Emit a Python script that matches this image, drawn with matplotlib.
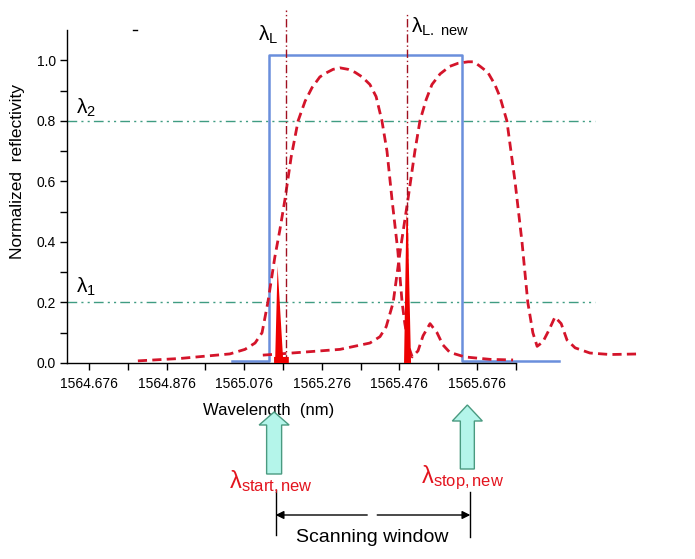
import matplotlib
matplotlib.use("Agg")
import matplotlib.pyplot as plt
from matplotlib.patches import Polygon
from matplotlib.lines import Line2D
from matplotlib.transforms import blended_transform_factory

plt.rcParams['font.family'] = ['Liberation Sans', 'DejaVu Sans']
plt.rcParams['mathtext.fontset'] = 'custom'
plt.rcParams['mathtext.rm'] = 'Liberation Sans'
plt.rcParams['mathtext.it'] = 'Liberation Sans'

# reflection spectrum, first position (nm, normalized)
wl_1 = [1564.802, 1564.911, 1565.039, 1565.078, 1565.104, 1565.122, 1565.137,
        1565.155, 1565.168, 1565.181, 1565.197, 1565.215, 1565.233, 1565.251,
        1565.271, 1565.287, 1565.305, 1565.323, 1565.344, 1565.362, 1565.380,
        1565.400, 1565.416, 1565.431, 1565.444, 1565.457, 1565.472, 1565.483,
        1565.490, 1565.501, 1565.509, 1565.524, 1565.537, 1565.555, 1565.573,
        1565.588, 1565.606, 1565.645, 1565.710, 1565.769]
r_1 = [0.007, 0.015, 0.03, 0.045, 0.066, 0.10, 0.20,
       0.35, 0.44, 0.54, 0.68, 0.80, 0.865, 0.91,
       0.945, 0.958, 0.97, 0.975, 0.97, 0.96, 0.945,
       0.92, 0.88, 0.80, 0.70, 0.54, 0.37, 0.20,
       0.13, 0.05, 0.02, 0.04, 0.09, 0.13, 0.10,
       0.06, 0.035, 0.02, 0.012, 0.01]

# reflection spectrum, shifted position
wl_2 = [1565.124, 1565.168, 1565.220, 1565.323, 1565.400, 1565.426, 1565.442,
        1565.460, 1565.478, 1565.498, 1565.516, 1565.529, 1565.545, 1565.560,
        1565.581, 1565.606, 1565.627, 1565.653, 1565.668, 1565.684, 1565.704,
        1565.722, 1565.735, 1565.753, 1565.774, 1565.792, 1565.807, 1565.820,
        1565.831, 1565.846, 1565.862, 1565.877, 1565.893, 1565.908, 1565.929,
        1565.967, 1566.019, 1566.096]
r_2 = [0.026, 0.03, 0.035, 0.045, 0.066, 0.087, 0.12,
       0.20, 0.37, 0.54, 0.70, 0.80, 0.87, 0.92,
       0.955, 0.98, 0.99, 0.995, 0.995, 0.98, 0.96,
       0.92, 0.88, 0.80, 0.60, 0.40, 0.20, 0.10,
       0.055, 0.07, 0.11, 0.152, 0.13, 0.076, 0.05,
       0.033, 0.028, 0.03]

# filter window
win_x = [1565.045, 1565.140, 1565.140, 1565.637, 1565.637, 1565.887]
win_y = [0.008, 0.008, 1.016, 1.016, 0.008, 0.008]

# laser lines
laser1_x = [1565.153, 1565.153, 1565.156, 1565.162, 1565.176, 1565.191, 1565.191]
laser1_y = [0.0, 0.02, 0.02, 0.32, 0.02, 0.02, 0.0]
laser2_x = [1565.488, 1565.494, 1565.498, 1565.506]
laser2_y = [0.0, 0.49, 0.46, 0.0]

lam_L = 1565.183
lam_L_new = 1565.495
lam_1 = 0.2
lam_2 = 0.8
lam_start = 1565.157
lam_stop = 1565.655

major_ticks = [1564.676, 1564.876, 1565.076, 1565.276, 1565.476, 1565.676]
minor_ticks = [1564.776, 1564.976, 1565.176, 1565.376, 1565.576, 1565.776]

W, H = 695, 559
fig = plt.figure(figsize=(W / 100, H / 100), dpi=100)
ax = fig.add_axes([67 / W, 196 / H, 593 / W, 333 / H])
x0, x1 = 1564.6193, 1566.1477
ax.set_xlim(x0, x1)
ax.set_ylim(0, 1.1)

for s in ['top', 'right']:
    ax.spines[s].set_visible(False)
ax.spines['bottom'].set_bounds(x0, 1565.776)
for s in ['bottom', 'left']:
    ax.spines[s].set_linewidth(1.0)

ax.set_xticks(major_ticks)
ax.set_xticklabels(['%.3f' % t for t in major_ticks])
ax.set_xticks(minor_ticks, minor=True)
ax.set_yticks([0, 0.2, 0.4, 0.6, 0.8, 1.0])
ax.set_yticklabels(['0.0', '0.2', '0.4', '0.6', '0.8', '1.0'])
ax.set_yticks([0.1, 0.3, 0.5, 0.7, 0.9], minor=True)
ax.tick_params(which='both', direction='out', length=5, width=1, labelsize=10)
ax.tick_params(axis='x', pad=5)
ax.tick_params(axis='y', pad=3)

red = '#d4142a'
teal = '#3f9c82'
ax.plot([x0, 1565.98], [lam_2, lam_2], color=teal, lw=1, dashes=[7, 3, 1.5, 3, 1.5, 3])
ax.plot([x0, 1565.98], [lam_1, lam_1], color=teal, lw=1, dashes=[7, 3, 1.5, 3, 1.5, 3])

ax.plot(win_x, win_y, color='#6a8fdc', lw=1.8, clip_on=False)

ax.plot(wl_1, r_1, color=red, lw=2, dashes=(3.3, 1.9), clip_on=False)
ax.plot(wl_2, r_2, color=red, lw=2, dashes=(3.3, 1.9), clip_on=False)

ax.fill(laser1_x, laser1_y, color='#ee0000', lw=0, zorder=4)
ax.fill(laser2_x, laser2_y, color='#ee0000', lw=0, zorder=4)

ax.plot([lam_L, lam_L], [0, 1.165], color='#a01020', lw=1, dashes=[6, 2, 1, 2], clip_on=False)
ax.plot([lam_L_new, lam_L_new], [0, 1.158], color='#a01020', lw=1, dashes=[6, 2, 1, 2], clip_on=False)

ax.text(1565.112, 1.065, r'$\mathregular{\lambda_L}$', fontsize=15, clip_on=False)
ax.text(1565.506, 1.092, r'$\mathregular{\lambda_{L.\ new}}$', fontsize=15, clip_on=False)
ax.text(1564.642, 0.825, r'$\mathregular{\lambda_2}$', fontsize=15)
ax.text(1564.642, 0.231, r'$\mathregular{\lambda_1}$', fontsize=15)

ax.text(0.3406, -0.120, 'Wavelength  (nm)', transform=ax.transAxes, fontsize=12,
        ha='center', va='top', clip_on=False)
ax.text(-0.0843, 0.5736, 'Normalized  reflectivity', transform=ax.transAxes, fontsize=12.5,
        ha='center', va='center', rotation=90, clip_on=False)

# block arrows below the axis, x in nm, y in figure pixels
tr = blended_transform_factory(ax.transData, fig.transFigure)
nm = 1 / 388.0


def fy(py):
    return (H - py) / H


def block_arrow(c, tip, hb, bottom, sw, hw):
    pts = [(c - sw * nm, fy(bottom)), (c - sw * nm, fy(hb)), (c - hw * nm, fy(hb)),
           (c, fy(tip)), (c + hw * nm, fy(hb)), (c + sw * nm, fy(hb)),
           (c + sw * nm, fy(bottom))]
    p = Polygon(pts, closed=True, facecolor='#b4f5ea', edgecolor='#4a9a80', lw=1,
                transform=tr, clip_on=False, zorder=6)
    ax.add_patch(p)


block_arrow(lam_start - 1.5 * nm, 412, 425, 474, 7.5, 15)
block_arrow(lam_stop - 1.5 * nm, 405, 421, 469, 7, 15)

ax.text(lam_start - 47 * nm, fy(488), r'$\mathregular{\lambda_{start,new}}$', color='#e3141e',
        fontsize=17, transform=tr, clip_on=False)
ax.text(lam_stop - 48 * nm, fy(483), r'$\mathregular{\lambda_{stop,new}}$', color='#e3141e',
        fontsize=17, transform=tr, clip_on=False)

# scanning window markers
ax.plot([lam_start, lam_start], [fy(490), fy(535)], color='black', lw=1,
        transform=tr, clip_on=False)
ax.plot([lam_stop + 1.5 * nm, lam_stop + 1.5 * nm], [fy(492), fy(537)], color='black', lw=1,
        transform=tr, clip_on=False)
mid = (lam_start + lam_stop) / 2
for start, end in [(mid - 5 * nm, lam_start), (mid + 5 * nm, lam_stop + 1.5 * nm)]:
    ax.annotate('', xy=(end, fy(515)), xytext=(start, fy(515)),
                xycoords=tr, textcoords=tr,
                arrowprops=dict(arrowstyle='-|>', color='black', lw=1,
                                mutation_scale=12, shrinkA=0, shrinkB=0))
ax.text(mid, fy(537), 'Scanning window', fontsize=14, ha='center', va='center',
        transform=tr, clip_on=False)

fig.add_artist(Line2D([133 / W, 137 / W], [fy(30), fy(30)], color='black', lw=1))

fig.savefig('out.png', dpi=100)
